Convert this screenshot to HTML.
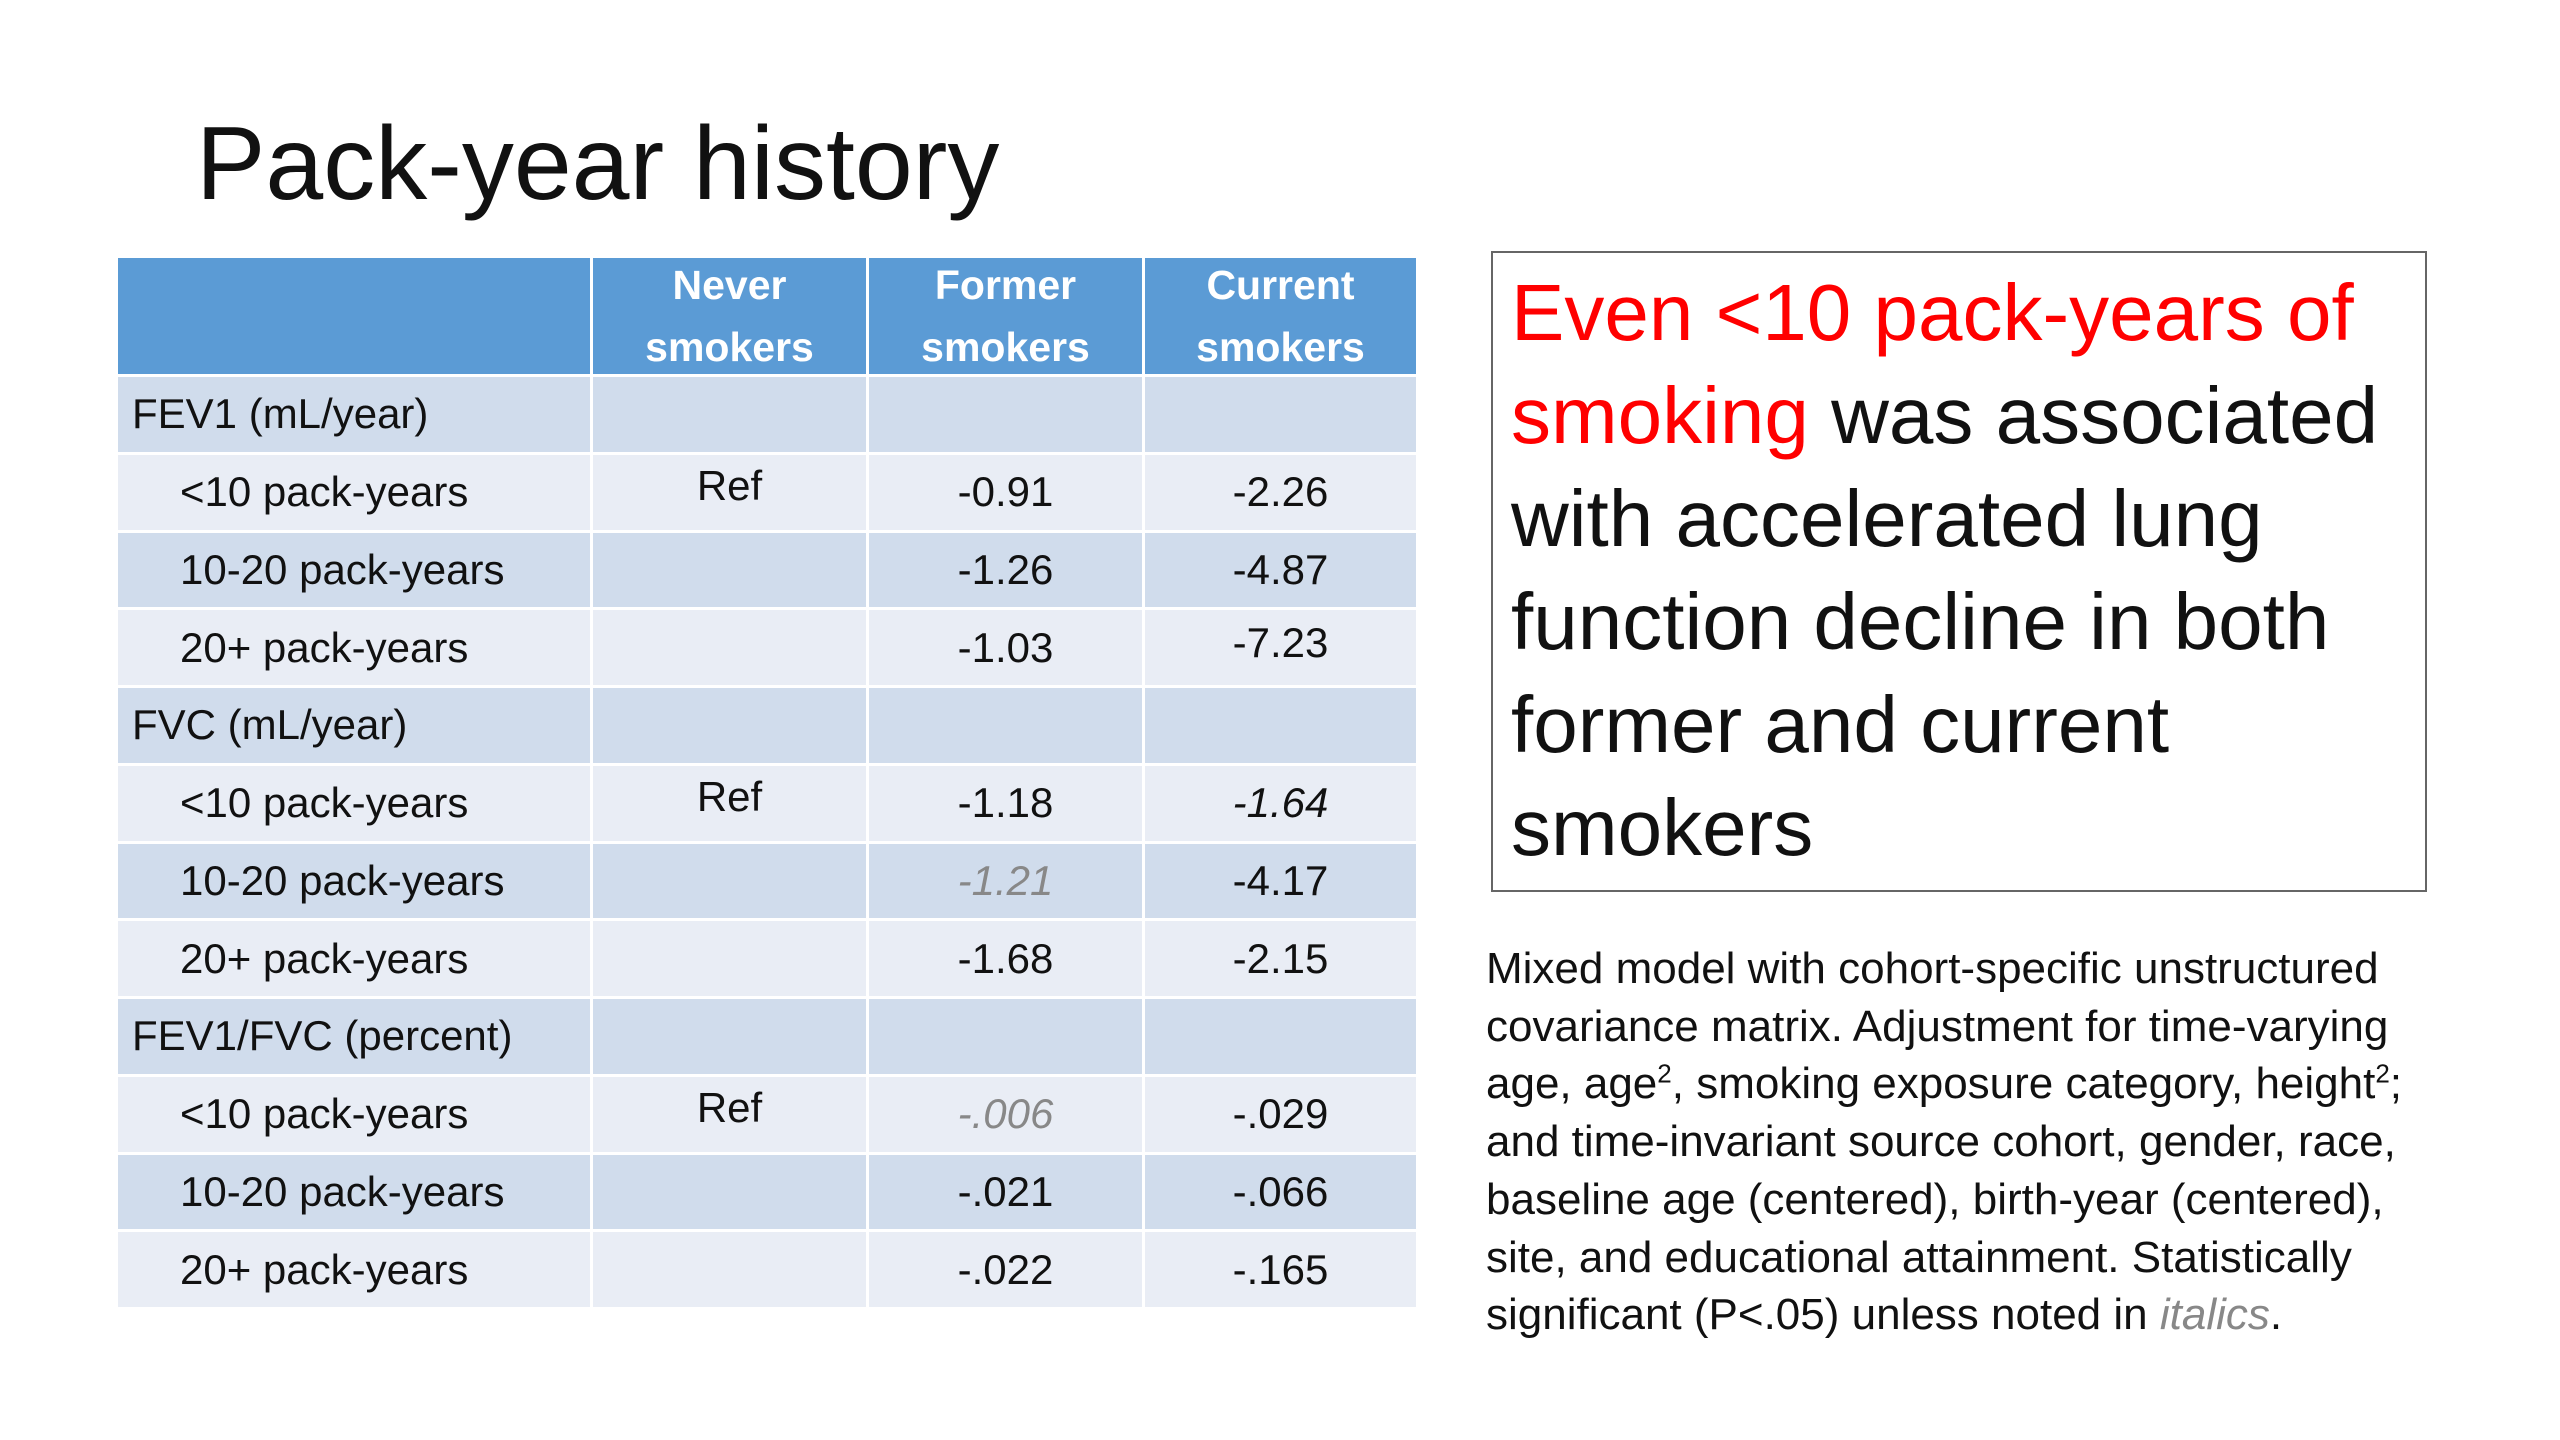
<!DOCTYPE html>
<html><head><meta charset="utf-8">
<style>
body{margin:0;width:2560px;height:1440px;background:#fff;position:relative;overflow:hidden;font-family:"Liberation Sans",sans-serif;color:#111}
.abs{position:absolute}
.cell{position:absolute;box-sizing:border-box;font-size:42px;display:flex;align-items:center;white-space:nowrap}
.hdr{background:#5b9bd5;color:#fff;font-weight:bold;justify-content:center;text-align:center;line-height:62px;font-size:41px}
.dark{background:#d0dcec}.light{background:#e9edf5}
.num{justify-content:center}
.it{font-style:italic}.gray{color:#888}
</style></head><body>
<div class="abs" style="left:196px;top:104px;font-size:104px;line-height:120px;color:#111">Pack-year history</div>
<div id="table"></div>
<div class="abs" style="left:1491px;top:251px;width:936px;height:641px;box-sizing:border-box;border:2px solid #666;padding:8px 0 0 18px;font-size:80px;line-height:103px;white-space:nowrap">
<span style="color:#f00">Even &lt;10 pack-years of<br>smoking</span> was associated<br>with accelerated lung<br>function decline in both<br>former and current<br>smokers</div>
<div class="abs" style="left:1486px;top:940px;width:1060px;font-size:44px;line-height:57.7px;white-space:nowrap">Mixed model with cohort-specific unstructured<br>covariance matrix. Adjustment for time-varying<br>age, age<sup style="font-size:26px;line-height:0">2</sup>, smoking exposure category, height<sup style="font-size:26px;line-height:0">2</sup>;<br>and time-invariant source cohort, gender, race,<br>baseline age (centered), birth-year (centered),<br>site, and educational attainment. Statistically<br>significant (P&lt;.05) unless noted in <i style="color:#888">italics</i>.</div>
<script>
const headers=["","Never<br>smokers","Former<br>smokers","Current<br>smokers"];
const labels=["FEV1 (mL/year)","<10 pack-years","10-20 pack-years","20+ pack-years","FVC (mL/year)","<10 pack-years","10-20 pack-years","20+ pack-years","FEV1/FVC (percent)","<10 pack-years","10-20 pack-years","20+ pack-years"];
const neverVals=["","Ref","","","","Ref","","","","Ref","",""];
const formerVals=["","-0.91","-1.26","-1.03","","-1.18","-1.21","-1.68","","-.006","-.021","-.022"];
const currentVals=["","-2.26","-4.87","-7.23","","-1.64","-4.17","-2.15","","-.029","-.066","-.165"];
const styles={"6-2":"it gray","9-2":"it gray","5-3":"it"};
const colX=[118,593,869,1145,1419];
const top0=258,hdrH=119,rowH=77.75;
const t=document.getElementById('table');
for(let c=0;c<4;c++){
 const d=document.createElement('div');
 
 
 d.className='cell hdr';
 d.style.left=colX[c]+'px';d.style.top=top0+'px';
 d.style.width=(colX[c+1]-colX[c]-3)+'px';d.style.height=(hdrH-3)+'px';
 d.innerHTML=headers[c];t.appendChild(d);
}
for(let r=0;r<labels.length;r++){
 const y=top0+hdrH+r*rowH;
 const cls=(r%2==0)?'dark':'light';
 const vals=[labels[r],neverVals[r],formerVals[r],currentVals[r]];
 for(let c=0;c<4;c++){
  const d=document.createElement('div');
  
  
  d.className='cell '+cls+(c>0?' num':'')+(styles[r+'-'+c]?' '+styles[r+'-'+c]:'');
  d.style.left=colX[c]+'px';d.style.top=y+'px';
  d.style.width=(colX[c+1]-colX[c]-3)+'px';d.style.height=(rowH-3)+'px';
  if(c==0)d.style.paddingLeft=(r%4==0?14:62)+'px';
  if(c==1)d.style.paddingBottom='12px';
  if(c==3&&r==3)d.style.paddingBottom='10px';
  d.textContent=vals[c];t.appendChild(d);
 }
}
</script>
</body></html>
